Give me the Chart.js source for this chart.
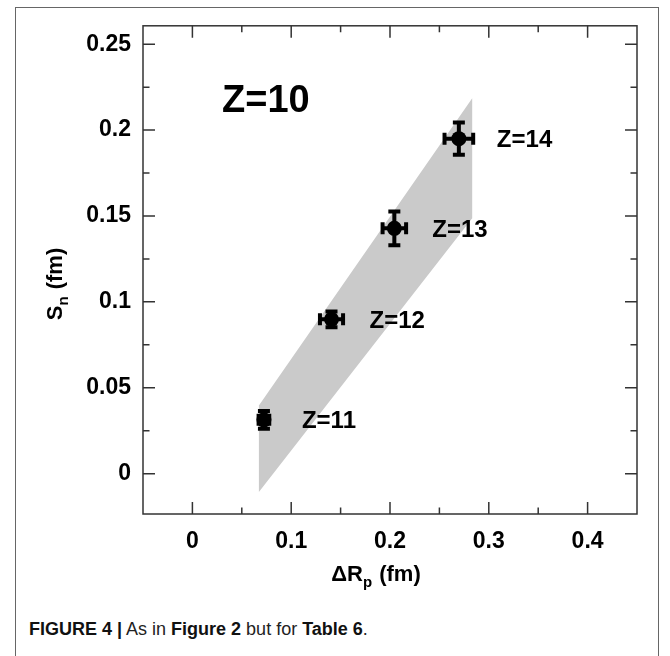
<!DOCTYPE html>
<html><head><meta charset="utf-8">
<script src="https://cdn.jsdelivr.net/npm/chart.js@4.4.1/dist/chart.umd.min.js"></script>
<style>
html,body{margin:0;padding:0;background:#fff;width:670px;height:656px;overflow:hidden;}
#frame{position:absolute;left:15px;top:7px;width:644px;height:720px;border:1px solid #666;box-sizing:border-box;}
#wrap{position:absolute;left:0;top:0;width:670px;height:600px;}
#caption{position:absolute;left:29px;top:619px;font-family:"Liberation Sans",Arial,sans-serif;font-size:18px;color:#222;white-space:nowrap;}
#caption b{color:#111;}
</style></head><body>
<div id="frame"></div>
<div id="wrap"><canvas id="c" width="670" height="600"></canvas></div>
<div id="caption"><b>FIGURE 4 |</b> As in <b>Figure 2</b> but for <b>Table 6</b>.</div>
<script>
// ---- data ----
const pointLabels = ['Z=11', 'Z=12', 'Z=13', 'Z=14'];
const deltaRp    = [0.0724, 0.1408, 0.2044, 0.2697];
const deltaRpErr = [0.0054, 0.0117, 0.0119, 0.0145];
const skinSn     = [0.0313, 0.0898, 0.1428, 0.1950];
const skinSnErr  = [0.0052, 0.0046, 0.0098, 0.0094];
const bandX = [0.0673, 0.0673, 0.2832, 0.2832];
const bandY = [-0.0107, 0.0396, 0.2185, 0.1486];
const xTickValues = [0, 0.1, 0.2, 0.3, 0.4];
const xTickLabels = ['0', '0.1', '0.2', '0.3', '0.4'];
const xMinorTicks = [0.05, 0.15, 0.25, 0.35];
const yTickValues = [0, 0.05, 0.1, 0.15, 0.2, 0.25];
const yTickLabels = ['0', '0.05', '0.1', '0.15', '0.2', '0.25'];
const yMinorTicks = [0.025, 0.075, 0.125, 0.175, 0.225];
const panelLabel = 'Z=10';

const FONT = '"Liberation Sans", Arial, Helvetica, sans-serif';

const decor = {
  id: 'decor',
  afterDatasetsDraw(chart) {
    const ctx = chart.ctx, xs = chart.scales.x, ys = chart.scales.y;
    ctx.save();
    ctx.fillStyle = '#000';
    ctx.strokeStyle = '#000';
    for (let i = 0; i < deltaRp.length; i++) {
      const px = xs.getPixelForValue(deltaRp[i]);
      const py = ys.getPixelForValue(skinSn[i]);
      const x1 = xs.getPixelForValue(deltaRp[i] - deltaRpErr[i]);
      const x2 = xs.getPixelForValue(deltaRp[i] + deltaRpErr[i]);
      const y1 = ys.getPixelForValue(skinSn[i] - skinSnErr[i]);
      const y2 = ys.getPixelForValue(skinSn[i] + skinSnErr[i]);
      ctx.lineWidth = 4;
      ctx.beginPath();
      ctx.moveTo(x1, py); ctx.lineTo(x2, py);
      ctx.moveTo(px, y1); ctx.lineTo(px, y2);
      ctx.moveTo(x1, py - 6); ctx.lineTo(x1, py + 6);
      ctx.moveTo(x2, py - 6); ctx.lineTo(x2, py + 6);
      ctx.moveTo(px - 6, y1); ctx.lineTo(px + 6, y1);
      ctx.moveTo(px - 6, y2); ctx.lineTo(px + 6, y2);
      ctx.stroke();
      ctx.font = 'bold 24px ' + FONT;
      ctx.textAlign = 'left';
      ctx.textBaseline = 'alphabetic';
      ctx.fillText(pointLabels[i], px + 38, py + 0.358 * 24);
    }
    ctx.font = 'bold 38px ' + FONT;
    ctx.fillText(panelLabel, xs.getPixelForValue(0.030), ys.getPixelForValue(0.2185) + 0.358 * 38);
    ctx.restore();
  },
  afterDraw(chart) {
    const ctx = chart.ctx, xs = chart.scales.x, ys = chart.scales.y;
    const {left, right, top, bottom} = chart.chartArea;
    ctx.save();
    ctx.strokeStyle = '#333';
    ctx.lineWidth = 1.5;
    ctx.beginPath();
    const tx = (vals, len) => vals.forEach(v => {
      const p = xs.getPixelForValue(v);
      ctx.moveTo(p, bottom); ctx.lineTo(p, bottom - len);
      ctx.moveTo(p, top); ctx.lineTo(p, top + len);
    });
    const ty = (vals, len) => vals.forEach(v => {
      const p = ys.getPixelForValue(v);
      ctx.moveTo(left, p); ctx.lineTo(left + len, p);
      ctx.moveTo(right, p); ctx.lineTo(right - len, p);
    });
    tx(xTickValues, 12); tx(xMinorTicks, 6.5);
    ty(yTickValues, 12); ty(yMinorTicks, 6.5);
    ctx.stroke();
    ctx.strokeRect(left, top, right - left, bottom - top);

    ctx.fillStyle = '#000';
    ctx.textBaseline = 'alphabetic';
    ctx.textAlign = 'left';
    const drawSub = (main, sub, rest, size) => {
      const big = 'bold ' + size + 'px ' + FONT;
      const small = 'bold ' + Math.round(size * 0.68) + 'px ' + FONT;
      ctx.font = big; const w1 = ctx.measureText(main).width;
      ctx.font = small; const w2 = ctx.measureText(sub).width;
      ctx.font = big; const w3 = ctx.measureText(rest).width;
      const total = w1 + w2 + 1 + w3;
      let x = -total / 2;
      ctx.font = big; ctx.fillText(main, x, 0); x += w1;
      ctx.font = small; ctx.fillText(sub, x, size * 0.28); x += w2 + 1;
      ctx.font = big; ctx.fillText(rest, x, 0);
    };
    ctx.save();
    ctx.translate(376, 581);
    drawSub('\u0394R', 'p', ' (fm)', 22);
    ctx.restore();
    ctx.save();
    ctx.translate(62, 284);
    ctx.rotate(-Math.PI / 2);
    drawSub('S', 'n', ' (fm)', 22);
    ctx.restore();
    ctx.restore();
  }
};

new Chart(document.getElementById('c'), {
  type: 'scatter',
  data: {
    datasets: [
      {
        type: 'scatter',
        order: 1,
        data: deltaRp.map((x, i) => ({x: x, y: skinSn[i]})),
        pointRadius: 7.5,
        backgroundColor: '#000',
        borderColor: '#000',
        pointBackgroundColor: '#000',
        pointBorderColor: '#000',
        pointBorderWidth: 0
      },
      {
        type: 'line',
        order: 2,
        data: bandX.map((x, i) => ({x: x, y: bandY[i]})),
        fill: 'shape',
        backgroundColor: '#cacaca',
        borderColor: 'rgba(0,0,0,0)',
        borderWidth: 0,
        pointRadius: 0,
        tension: 0
      }
    ]
  },
  options: {
    responsive: false,
    animation: false,
    devicePixelRatio: 1,
    layout: {padding: {left: 0, top: 23, right: 33, bottom: 0}},
    plugins: {legend: {display: false}, tooltip: {enabled: false}},
    scales: {
      x: {
        type: 'linear', min: -0.05, max: 0.45,
        afterBuildTicks: s => { s.ticks = xTickValues.map(v => ({value: v})); },
        afterFit: s => { s.height = 86; },
        ticks: {
          callback: (v, i) => xTickLabels[i],
          font: {family: FONT, size: 23, weight: 'bold'},
          color: '#000', padding: 14, maxRotation: 0, autoSkip: false
        },
        grid: {display: false, drawTicks: false},
        border: {display: false}
      },
      y: {
        type: 'linear', min: -0.0235, max: 0.2607,
        afterBuildTicks: s => { s.ticks = yTickValues.map(v => ({value: v})); },
        afterFit: s => { s.width = 143; },
        ticks: {
          callback: (v, i) => yTickLabels[i],
          font: {family: FONT, size: 23, weight: 'bold'},
          color: '#000', padding: 12, autoSkip: false
        },
        grid: {display: false, drawTicks: false},
        border: {display: false}
      }
    }
  },
  plugins: [decor]
});
</script>
</body></html>
